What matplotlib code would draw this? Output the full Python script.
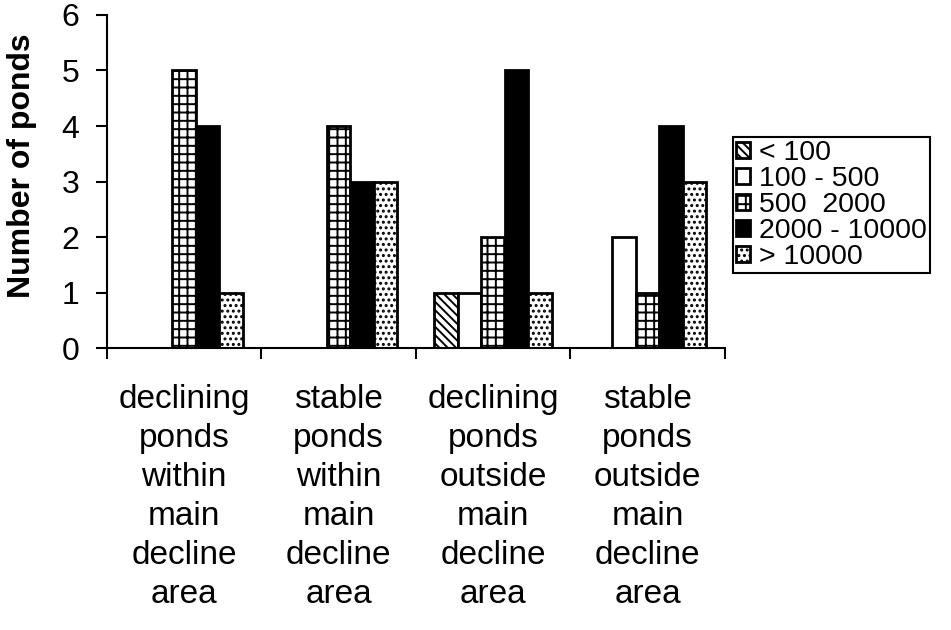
import matplotlib
matplotlib.use('Agg')
import matplotlib.pyplot as plt
import numpy as np

plt.rcParams['font.family'] = ['Liberation Sans', 'DejaVu Sans']
plt.rcParams['hatch.linewidth'] = 1.4

categories = ['declining\nponds\nwithin\nmain\ndecline\narea',
              'stable\nponds\nwithin\nmain\ndecline\narea',
              'declining\nponds\noutside\nmain\ndecline\narea',
              'stable\nponds\noutside\nmain\ndecline\narea']
size_classes = ['< 100', '100 - 500', '500  2000', '2000 - 10000', '> 10000']
lt_100 = [0, 0, 1, 0]
from_100_to_500 = [0, 0, 1, 2]
from_500_to_2000 = [5, 4, 2, 1]
from_2000_to_10000 = [4, 3, 5, 4]
gt_10000 = [1, 3, 1, 3]
series = [lt_100, from_100_to_500, from_500_to_2000, from_2000_to_10000, gt_10000]

# fill and hatch for each size class
styles = [('white', '\\\\\\\\'), ('white', ''), ('white', '++'), ('black', ''), ('white', '...')]

fig = plt.figure(figsize=(9.51, 6.3), dpi=100)
ax = fig.add_axes([0.1125, 0.4476, 0.6495, 0.5286])

x = np.arange(len(categories))
bar_w = 0.152
for i, (vals, (fc, hatch)) in enumerate(zip(series, styles)):
    offs = (i - 2) * bar_w
    ax.bar(x + offs, vals, width=bar_w, color=fc, hatch=hatch,
           edgecolor='black', linewidth=2, label=size_classes[i])

ax.set_xlim(-0.5, len(categories) - 0.5)
ax.set_ylim(0, 6)
ax.set_yticks(range(7))
ax.set_xticks(np.arange(len(categories) + 1) - 0.5)
ax.set_xticklabels([])
ax.set_xticks(x, minor=True)
ax.set_xticklabels(categories, minor=True, fontsize=24, linespacing=1.33)
ax.tick_params(axis='x', which='minor', length=0, pad=26)
ax.tick_params(axis='x', which='major', direction='out', length=8, width=1.5)
ax.tick_params(axis='y', direction='out', length=8, width=1.5, labelsize=23, pad=12)

for side in ['top', 'right']:
    ax.spines[side].set_visible(False)
for side in ['left', 'bottom']:
    ax.spines[side].set_linewidth(1.5)

ax.set_ylabel('Number of ponds', fontsize=23, fontweight='bold')
ax.yaxis.set_label_coords(-0.113, 0.547)

leg = ax.legend(loc='upper left', bbox_to_anchor=(0.771, 0.7825),
                bbox_transform=fig.transFigure, borderaxespad=0,
                fontsize=20.5, handlelength=0.5, handleheight=0.5,
                handletextpad=0.3, labelspacing=0.0, borderpad=0.1,
                fancybox=False, framealpha=1, edgecolor='black')
leg.get_frame().set_linewidth(1.5)

fig.savefig('out.png', dpi=100)
